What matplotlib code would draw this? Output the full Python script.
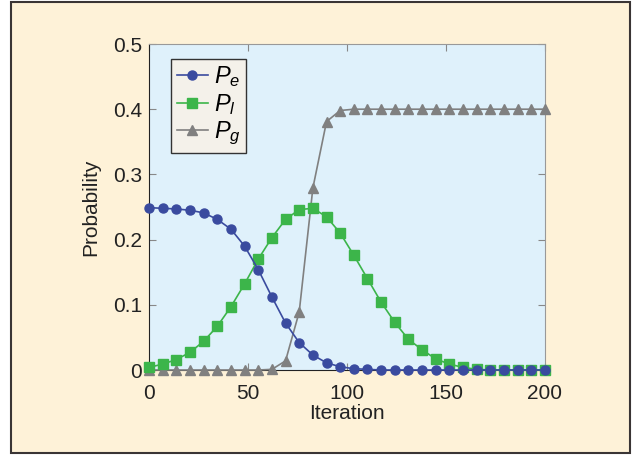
import numpy as np
import matplotlib.pyplot as plt
from matplotlib.patches import Rectangle

plt.rcParams['font.family'] = ['Liberation Sans', 'DejaVu Sans']
plt.rcParams['mathtext.fontset'] = 'custom'
plt.rcParams['mathtext.it'] = 'Liberation Sans:italic'
plt.rcParams['mathtext.rm'] = 'Liberation Sans'

# 30 iterations sampled evenly from 0 to 200
iteration = np.linspace(0, 200, 30)

p_e = [0.249, 0.248, 0.247, 0.245, 0.241, 0.231, 0.216, 0.190, 0.154, 0.112,
       0.072, 0.042, 0.023, 0.011, 0.005, 0.002, 0.001, 0.0, 0.0, 0.0,
       0.0, 0.0, 0.0, 0.0, 0.0, 0.0, 0.0, 0.0, 0.0, 0.0]
p_l = [0.004, 0.009, 0.016, 0.027, 0.044, 0.067, 0.097, 0.132, 0.170, 0.203,
       0.231, 0.246, 0.248, 0.235, 0.210, 0.176, 0.140, 0.104, 0.073, 0.047,
       0.031, 0.017, 0.009, 0.004, 0.001, 0.0, 0.0, 0.0, 0.0, 0.0]
p_g = [0.0, 0.0, 0.0, 0.0, 0.0, 0.0, 0.0, 0.0, 0.0, 0.001,
       0.014, 0.089, 0.279, 0.381, 0.398, 0.4, 0.4, 0.4, 0.4, 0.4,
       0.4, 0.4, 0.4, 0.4, 0.4, 0.4, 0.4, 0.4, 0.4, 0.4]

fig = plt.figure(figsize=(6.4, 4.57), dpi=100)
fig.patch.set_facecolor('white')
# cream panel with dark frame, kept behind the axes
panel = Rectangle((11/640, 1 - 453/457), 619/640, 451/457,
                  transform=fig.transFigure, facecolor='#fef2d8',
                  edgecolor='#3a3535', linewidth=1.5, zorder=-5)
fig.add_artist(panel)

ax = fig.add_axes([149/640, 1 - 370/457, 396/640, 326/457])
ax.set_zorder(1)
ax.set_facecolor('#dff1fb')

ax.plot(iteration, p_g, color='#808080', marker='^', markersize=7, linewidth=1.2,
        label='$P_g$', clip_on=False, zorder=3)
ax.plot(iteration, p_l, color='#3cb54a', marker='s', markersize=6.5, linewidth=1.2,
        label='$P_l$', clip_on=False, zorder=4)
ax.plot(iteration, p_e, color='#3a4b9f', marker='o', markersize=6.5, linewidth=1.2,
        label='$P_e$', clip_on=False, zorder=5)

ax.set_xlim(0, 200)
ax.set_ylim(0, 0.5)
ax.set_xticks([0, 50, 100, 150, 200])
ax.set_yticks([0, 0.1, 0.2, 0.3, 0.4, 0.5])
ax.set_yticklabels(['0', '0.1', '0.2', '0.3', '0.4', '0.5'])
ax.tick_params(direction='in', top=True, right=True, length=5, color='#888888',
               labelsize=15, labelcolor='#222222')
ax.tick_params(axis='x', pad=10)
ax.tick_params(axis='y', pad=5)
ax.set_xlabel('Iteration', fontsize=15, color='#222222', labelpad=1)
ax.set_ylabel('Probability', fontsize=15, color='#222222', labelpad=9)

for side in ['left', 'bottom']:
    ax.spines[side].set_color('#222222')
for side in ['top', 'right']:
    ax.spines[side].set_color('#999999')

handles, labels = ax.get_legend_handles_labels()
leg = ax.legend(handles[::-1], labels[::-1], loc='upper left',
                bbox_to_anchor=(0.056, 0.955), borderaxespad=0, fontsize=17,
                frameon=True, fancybox=False, handlelength=1.3,
                handletextpad=0.25, labelspacing=0.12, borderpad=0.25)
leg.get_frame().set_facecolor('#f4f1ea')
leg.get_frame().set_edgecolor('#333333')
leg.get_frame().set_alpha(1)

fig.savefig('out.png', dpi=100)
